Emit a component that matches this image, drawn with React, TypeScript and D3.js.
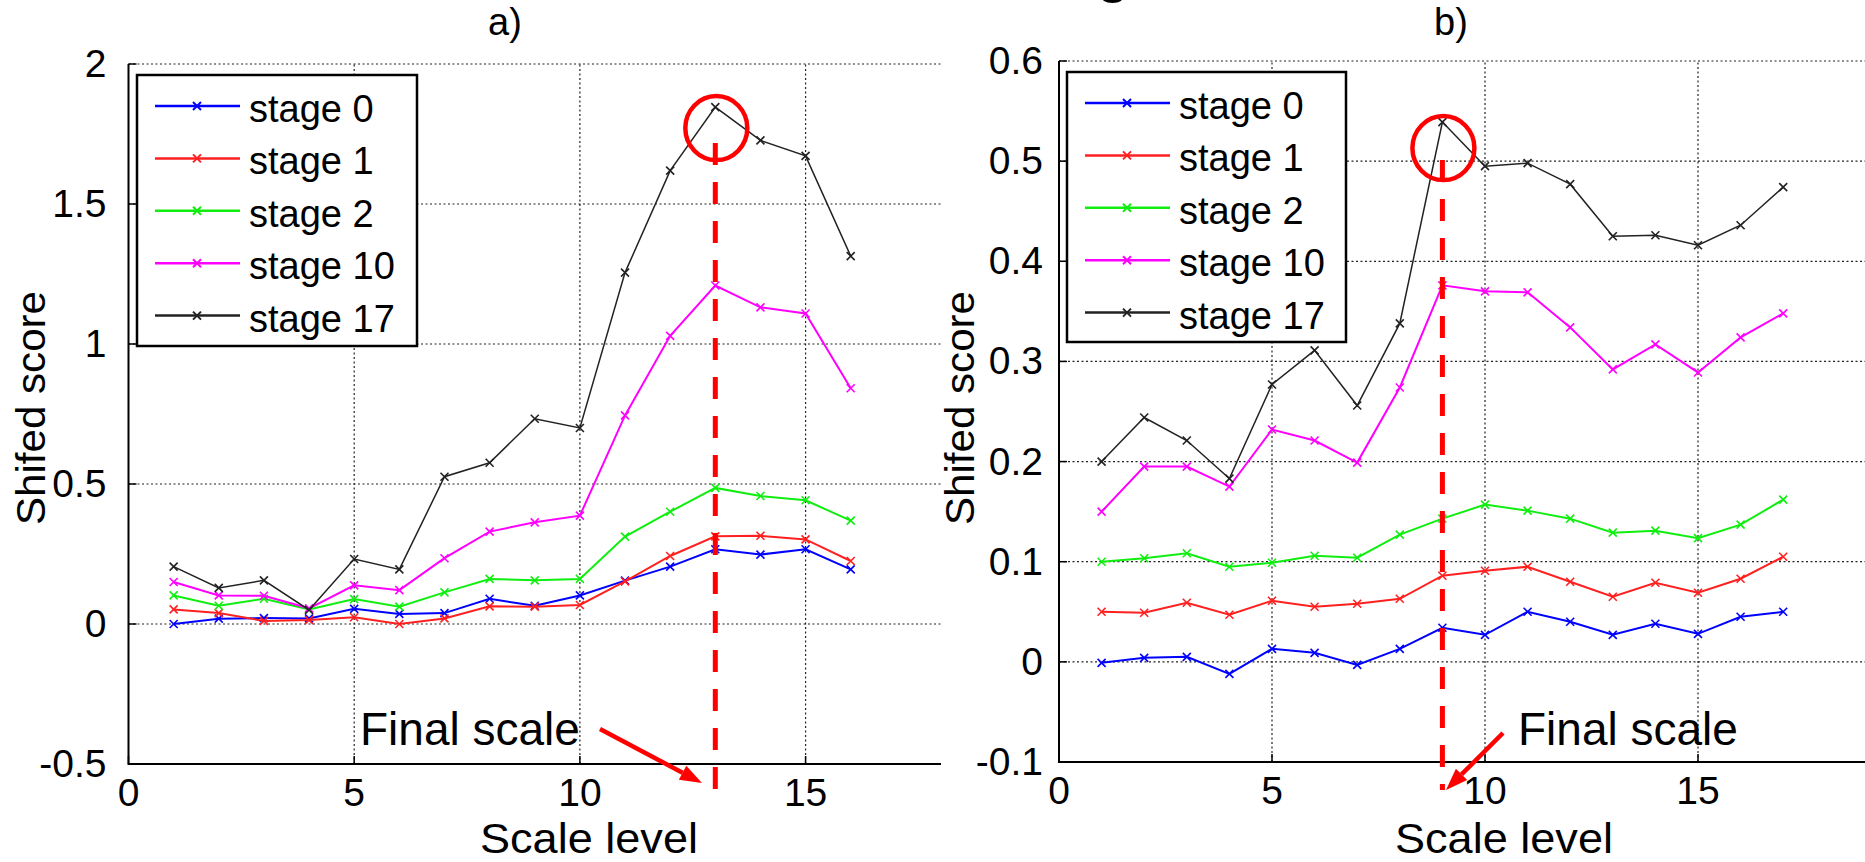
import * as d3 from "d3";

const FONT = "'Liberation Sans', Arial, sans-serif";

const stageNames = ["stage 0", "stage 1", "stage 2", "stage 10", "stage 17"];
const stageColors = ["#0000ff", "#ff2020", "#10ee10", "#ff00ff", "#222222"];

// panel a)
const levelsA = [1, 2, 3, 4, 5, 6, 7, 8, 9, 10, 11, 12, 13, 14, 15, 16];
const stage0A = [0.0, 0.019, 0.021, 0.02, 0.054, 0.036, 0.039, 0.09, 0.065, 0.102, 0.155, 0.205, 0.267, 0.248, 0.267, 0.195];
const stage1A = [0.052, 0.039, 0.011, 0.014, 0.024, 0.0, 0.02, 0.063, 0.062, 0.068, 0.152, 0.243, 0.313, 0.315, 0.302, 0.225];
const stage2A = [0.102, 0.065, 0.09, 0.052, 0.089, 0.062, 0.113, 0.161, 0.156, 0.161, 0.312, 0.401, 0.486, 0.457, 0.442, 0.369];
const stage10A = [0.15, 0.102, 0.101, 0.056, 0.138, 0.121, 0.235, 0.33, 0.363, 0.387, 0.745, 1.029, 1.209, 1.131, 1.109, 0.842];
const stage17A = [0.205, 0.129, 0.156, 0.05, 0.232, 0.195, 0.526, 0.576, 0.733, 0.7, 1.255, 1.619, 1.846, 1.727, 1.672, 1.314];
const yTicksA = [-0.5, 0, 0.5, 1, 1.5, 2];
const xTicksA = [0, 5, 10, 15];
const finalA = 13;

// panel b)
const levelsB = [1, 2, 3, 4, 5, 6, 7, 8, 9, 10, 11, 12, 13, 14, 15, 16, 17];
const stage0B = [-0.001, 0.004, 0.005, -0.012, 0.013, 0.009, -0.003, 0.013, 0.034, 0.027, 0.05, 0.04, 0.027, 0.038, 0.028, 0.045, 0.05];
const stage1B = [0.05, 0.049, 0.059, 0.047, 0.061, 0.055, 0.058, 0.063, 0.086, 0.091, 0.095, 0.08, 0.065, 0.079, 0.069, 0.083, 0.105];
const stage2B = [0.1, 0.1035, 0.1085, 0.095, 0.099, 0.106, 0.104, 0.127, 0.143, 0.157, 0.151, 0.143, 0.129, 0.131, 0.1235, 0.137, 0.162];
const stage10B = [0.15, 0.195, 0.195, 0.175, 0.232, 0.221, 0.199, 0.274, 0.376, 0.37, 0.369, 0.334, 0.292, 0.317, 0.289, 0.324, 0.348];
const stage17B = [0.2, 0.244, 0.221, 0.183, 0.277, 0.311, 0.256, 0.338, 0.539, 0.495, 0.498, 0.477, 0.425, 0.426, 0.416, 0.436, 0.474];
const yTicksB = [-0.1, 0, 0.1, 0.2, 0.3, 0.4, 0.5, 0.6];
const xTicksB = [0, 5, 10, 15];
const finalB = 9;

function Arrow({ x1, y1, x2, y2 }) {
  const a = Math.atan2(y2 - y1, x2 - x1);
  const len = 22, half = 8;
  const bx = x2 - len * Math.cos(a), by = y2 - len * Math.sin(a);
  const pts = [
    [x2, y2],
    [bx + half * Math.sin(a), by - half * Math.cos(a)],
    [bx - half * Math.sin(a), by + half * Math.cos(a)],
  ];
  return (
    <g>
      <line x1={x1} y1={y1} x2={bx} y2={by} stroke="#ff0000" strokeWidth={4.5} />
      <polygon points={pts.map(p => p.join(",")).join(" ")} fill="#ff0000" />
    </g>
  );
}

function Panel(props) {
  const { xDomain, xRange, yDomain, yRange, xTicks, yTicks, levels, series,
    title, titleX, legend, labelGap, yLabelX, yLabelY, xLabelX, finalLevel,
    circleDy, lineTop, lineBottom, textX, arrow } = props;

  const x = d3.scaleLinear().domain(xDomain).range(xRange);
  const y = d3.scaleLinear().domain(yDomain).range(yRange);
  const line = d3.line().x((d, i) => x(levels[i])).y(d => y(d));

  const x0 = xRange[0], x1 = xRange[1];
  const y0 = yRange[0], y1 = yRange[1];
  const peak = series[4][levels.indexOf(finalLevel)];
  const fx = x(finalLevel);

  const xMark = (cx, cy, s, c, w) => (
    <path d={`M${cx - s},${cy - s}L${cx + s},${cy + s}M${cx - s},${cy + s}L${cx + s},${cy - s}`} stroke={c} strokeWidth={w} fill="none" />
  );

  return (
    <g fontFamily={FONT}>
      {/* grid */}
      {yTicks.filter(t => t !== yDomain[0]).map(t => (
        <line key={"gy" + t} x1={x0} x2={x1} y1={y(t)} y2={y(t)} stroke="#222" strokeWidth={1.2} strokeDasharray="2,2.5" />
      ))}
      {xTicks.filter(t => t !== xDomain[0]).map(t => (
        <line key={"gx" + t} x1={x(t)} x2={x(t)} y1={y0} y2={y1} stroke="#222" strokeWidth={1.2} strokeDasharray="2,2.5" />
      ))}
      {/* axes */}
      <line x1={x0} x2={x0} y1={y0 + 1} y2={y1} stroke="#000" strokeWidth={2} />
      <line x1={x0} x2={x1} y1={y0} y2={y0} stroke="#000" strokeWidth={2} />
      {yTicks.map(t => (
        <g key={"ty" + t}>
          <line x1={x0} x2={x0 + 8} y1={y(t)} y2={y(t)} stroke="#000" strokeWidth={1.5} />
          <text x={x0 - labelGap} y={y(t) + 13} textAnchor="end" fontSize={39} fill="#000">{String(t)}</text>
        </g>
      ))}
      {xTicks.map(t => (
        <g key={"tx" + t}>
          <line x1={x(t)} x2={x(t)} y1={y0} y2={y0 - 8} stroke="#000" strokeWidth={1.5} />
          <text x={x(t)} y={y0 + 42} textAnchor="middle" fontSize={39} fill="#000">{String(t)}</text>
        </g>
      ))}
      {/* series */}
      {series.map((vals, si) => (
        <g key={"s" + si}>
          <path d={line(vals)} fill="none" stroke={stageColors[si]} strokeWidth={si === 4 ? 1.5 : 2} />
          {vals.map((v, i) => <g key={i}>{xMark(x(levels[i]), y(v), 4, stageColors[si], 1.6)}</g>)}
        </g>
      ))}
      {/* annotations */}
      <line x1={fx} x2={fx} y1={lineTop} y2={lineBottom} stroke="#ff0000" strokeWidth={5} strokeDasharray="22,17" />
      <ellipse cx={fx + 1} cy={y(peak) + circleDy} rx={31} ry={32} fill="none" stroke="#ff0000" strokeWidth={4.5} />
      <text x={textX} y={745} fontSize={46} fill="#000">Final scale</text>
      <Arrow {...arrow} />
      {/* legend */}
      <rect x={legend.x} y={legend.y} width={legend.w} height={legend.h} fill="#fff" stroke="#000" strokeWidth={2.5} />
      {stageNames.map((n, i) => {
        const ry = legend.y + 31 + i * 52.4;
        return (
          <g key={n}>
            <line x1={legend.x + 18} x2={legend.x + 103} y1={ry} y2={ry} stroke={stageColors[i]} strokeWidth={2.5} />
            {xMark(legend.x + 60, ry, 4, stageColors[i], 2)}
            <text x={legend.x + 112} y={ry + 16} fontSize={38} fill="#000">{n}</text>
          </g>
        );
      })}
      {/* labels */}
      <text x={titleX} y={35} textAnchor="middle" fontSize={38} fill="#000">{title}</text>
      <text x={xLabelX} y={853} textAnchor="middle" fontSize={42} fill="#000" textLength={218} lengthAdjust="spacingAndGlyphs">Scale level</text>
      <text transform={`translate(${yLabelX},${yLabelY}) rotate(-90)`} textAnchor="middle" fontSize={40} fill="#000" textLength={234} lengthAdjust="spacingAndGlyphs">Shifed score</text>
    </g>
  );
}

export default function App() {
  return (
    <div>
      <style>{`body{margin:0;overflow:hidden}`}</style>
      <svg width={1865} height={862} style={{ display: "block", background: "#fff" }}>
        <rect width={1865} height={862} fill="#fff" />
        <text x={1113} y={-9} textAnchor="middle" fontSize={60} fontFamily={FONT} fill="#000">g</text>
        <Panel
          xDomain={[0, 18]} xRange={[128.5, 941]} yDomain={[-0.5, 2]} yRange={[764, 64]}
          xTicks={xTicksA} yTicks={yTicksA} levels={levelsA}
          series={[stage0A, stage1A, stage2A, stage10A, stage17A]}
          title="a)" titleX={505} labelGap={22}
          legend={{ x: 137, y: 75, w: 280, h: 271 }}
          yLabelX={45} yLabelY={408} xLabelX={589}
          finalLevel={finalA} circleDy={21} lineTop={143} lineBottom={794}
          textX={360} arrow={{ x1: 600, y1: 729, x2: 702, y2: 783 }}
        />
        <Panel
          xDomain={[0, 20]} xRange={[1059, 1911]} yDomain={[-0.1, 0.6]} yRange={[762, 61]}
          xTicks={xTicksB} yTicks={yTicksB} levels={levelsB}
          series={[stage0B, stage1B, stage2B, stage10B, stage17B]}
          title="b)" titleX={1451} labelGap={16}
          legend={{ x: 1067, y: 72, w: 279, h: 270 }}
          yLabelX={974} yLabelY={408} xLabelX={1504}
          finalLevel={finalB} circleDy={26} lineTop={160} lineBottom={790}
          textX={1518} arrow={{ x1: 1503, y1: 733, x2: 1446, y2: 790 }}
        />
      </svg>
    </div>
  );
}
